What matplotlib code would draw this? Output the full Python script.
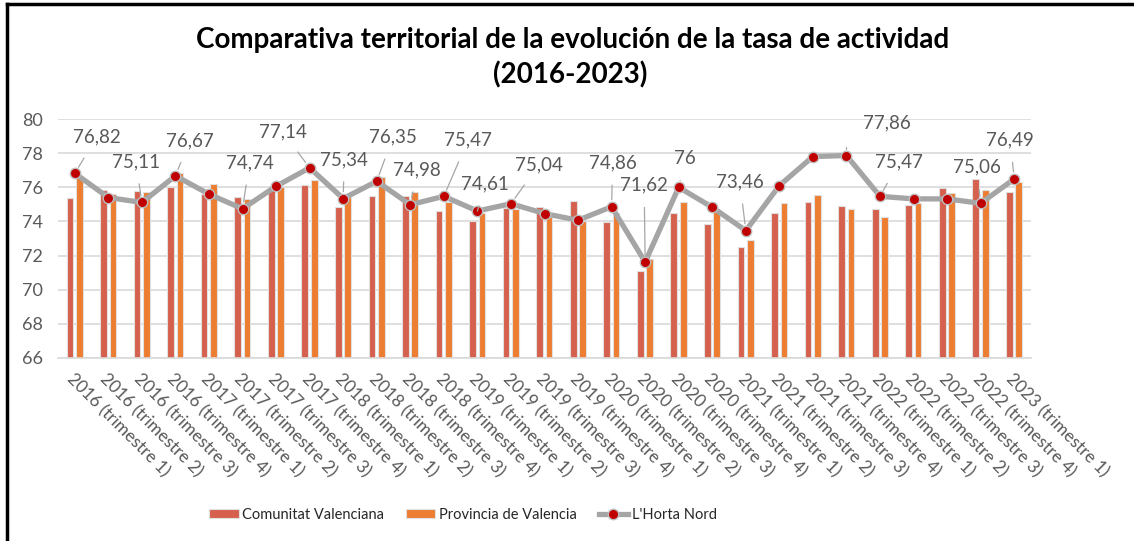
import matplotlib
matplotlib.use("Agg")
import matplotlib.pyplot as plt
from matplotlib.lines import Line2D
import numpy as np

# data
years = [2016]*4 + [2017]*4 + [2018]*4 + [2019]*4 + [2020]*4 + [2021]*4 + [2022]*4 + [2023]
quarters = [1, 2, 3, 4]*7 + [1]
labels = ["%d (trimestre %d)" % (y, q) for y, q in zip(years, quarters)]

comunitat = [75.36, 75.85, 75.8, 76.0, 75.6, 75.42, 76.0,
             76.14, 74.87, 75.48, 75.48, 74.64, 74.03, 74.81, 74.87, 75.2,
             73.94, 71.07, 74.52, 73.86, 72.51, 74.52, 75.13, 74.93,
             74.72, 74.95, 75.96, 76.51, 75.73]
provincia = [76.6, 75.6, 75.7, 76.86, 76.22, 75.34, 76.0,
             76.43, 75.42, 76.59, 75.73, 75.16, 74.48, 74.72, 74.25, 74.05,
             74.48, 71.79, 75.16, 74.68, 72.92, 75.07, 75.55, 74.74,
             74.25, 75.07, 75.69, 75.85, 76.33]
horta = [76.82, 75.4, 75.11, 76.67, 75.6, 74.74, 76.06,
         77.14, 75.34, 76.35, 74.98, 75.47, 74.61, 75.04, 74.46, 74.07,
         74.86, 71.62, 76.0, 74.83, 73.46, 76.1, 77.8, 77.86,
         75.47, 75.32, 75.32, 75.06, 76.49]
# which points carry a label, and where the label sits (pixels from the dot)
label_offsets = {0: (22, 36), 2: (-6, 41), 3: (14, 35), 5: (7, 46), 7: (-27, 36),
                 8: (1, 39), 9: (16, 44), 10: (7, 35), 11: (24, 56), 12: (8, 27),
                 13: (28, 39), 16: (1, 44), 17: (-1, 77), 18: (6, 29), 20: (-6, 49),
                 23: (40, 33), 24: (19, 34), 27: (-4, 36), 28: (-4, 39)}

font = "Lato"
grey_txt = "#595959"

fig = plt.figure(figsize=(11.34, 5.41), dpi=100)
ax = fig.add_axes([58/1134, 1-358/541, (1031-58)/1134, (358-119)/541])

x = np.arange(len(labels))
w = 0.2
b1 = ax.bar(x - 0.145, [v - 66 for v in comunitat], w, bottom=66, color="#D5604D",
            edgecolor="#e0e0e0", linewidth=0.8, label="Comunitat Valenciana", zorder=2)
b2 = ax.bar(x + 0.135, [v - 66 for v in provincia], w, bottom=66, color="#ED7D31",
            edgecolor="#e0e0e0", linewidth=0.8, label="Provincia de Valencia", zorder=2)
ln, = ax.plot(x, horta, color="#A5A5A5", linewidth=3.8, marker="o", markersize=7.5,
              markerfacecolor="#C00000", markeredgecolor="#BDBDBD", markeredgewidth=1,
              label="L'Horta Nord", zorder=3)

for i, (dx, dy) in label_offsets.items():
    v = horta[i]
    txt = ("%.2f" % v).rstrip("0").rstrip(".").replace(".", ",")
    if i == 23:
        # elbow leader going up then right
        cs = "angle,angleA=0,angleB=90,rad=0"
        sa = 20
    else:
        cs = "arc3"
        sa = 8
    ax.annotate(txt, (i, v), xytext=(dx, dy), textcoords="offset pixels",
                ha="center", va="center", fontsize=13.5, color=grey_txt, family=font,
                arrowprops=dict(arrowstyle="-", color="#A6A6A6", lw=0.9,
                                connectionstyle=cs, shrinkA=sa, shrinkB=5), zorder=4)

ax.set_xlim(-0.5, len(labels) - 0.5)
ax.set_ylim(66, 80)
ax.set_yticks(range(66, 81, 2))
ax.yaxis.grid(True, color="#D9D9D9", linewidth=1.2, zorder=0)
ax.set_axisbelow(True)
for s in ["top", "right", "left"]:
    ax.spines[s].set_visible(False)
ax.spines["bottom"].set_color("#D9D9D9")
ax.spines["bottom"].set_linewidth(1.2)
ax.tick_params(axis="both", length=0, colors=grey_txt)
ax.tick_params(axis="y", labelsize=13, pad=11)
ax.tick_params(axis="x", pad=9)
ax.set_xticks(x)
ax.set_xticklabels(labels, rotation=-45, ha="left", rotation_mode="anchor",
                   fontsize=12.5, family=font, color=grey_txt)
for t in ax.get_yticklabels():
    t.set_family(font)

fig.text(0.505, 1-40/541, "Comparativa territorial de la evolución de la tasa de actividad",
         ha="center", va="center", fontsize=20, fontweight="bold", family=font)
fig.text(0.503, 1-75/541, "(2016-2023)", ha="center", va="center",
         fontsize=20, fontweight="bold", family=font)

leg = fig.legend([b1, b2, ln], ["Comunitat Valenciana", "Provincia de Valencia", "L'Horta Nord"],
                 loc="center", bbox_to_anchor=(463/1134, 1-515/541), ncol=3, frameon=False,
                 prop={"family": font, "size": 10.5}, handlelength=2.0, handleheight=0.6,
                 handletextpad=0.25, columnspacing=1.5)
for t in leg.get_texts():
    t.set_color("#262626")

# black frame of the cropped screenshot
fig.add_artist(Line2D([7/1134, 7/1134], [0, 1-4/541], color="black", lw=2.5))
fig.add_artist(Line2D([7/1134, 1], [1-4/541, 1-4/541], color="black", lw=2.5))

fig.savefig("out.png", dpi=100)
